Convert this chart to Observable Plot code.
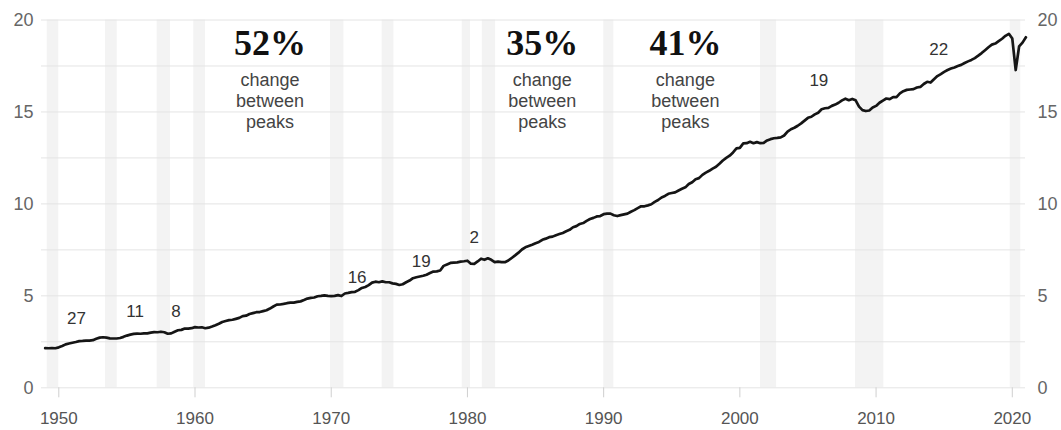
<!DOCTYPE html>
<html>
<head>
<meta charset="utf-8">
<script src="https://cdn.jsdelivr.net/npm/d3@7"></script>
<script src="https://cdn.jsdelivr.net/npm/@observablehq/plot@0.6"></script>
<style>
  html, body { margin: 0; padding: 0; background: #fff; }
  #chart svg { display: block; }
</style>
</head>
<body>
<div id="chart"></div>
<script>
// Real GDP, trillions of chained dollars, quarterly from 1949 Q1
const firstYear = 1949;
const gdp1949 = [2.16, 2.15, 2.16, 2.15];
const gdp1950s = [
  2.20, 2.27, 2.36, 2.41,
  2.45, 2.49, 2.54, 2.55,
  2.57, 2.57, 2.59, 2.67,
  2.73, 2.75, 2.73, 2.69,
  2.68, 2.68, 2.71, 2.77,
  2.84, 2.89, 2.93, 2.95,
  2.94, 2.96, 2.96, 3.00,
  3.03, 3.02, 3.05, 3.02,
  2.94, 2.96, 3.05, 3.13,
  3.15, 3.22, 3.22, 3.24
];
const gdp1960s = [
  3.30, 3.28, 3.29, 3.24,
  3.27, 3.33, 3.40, 3.48,
  3.58, 3.63, 3.68, 3.70,
  3.75, 3.80, 3.90, 3.92,
  4.01, 4.06, 4.11, 4.12,
  4.17, 4.22, 4.31, 4.42,
  4.52, 4.53, 4.56, 4.60,
  4.63, 4.63, 4.67, 4.70,
  4.77, 4.85, 4.89, 4.91,
  4.98, 5.00, 5.03, 5.00
];
const gdp1970s = [
  4.99, 5.00, 5.04, 4.99,
  5.13, 5.16, 5.20, 5.22,
  5.31, 5.43, 5.48, 5.58,
  5.72, 5.77, 5.74, 5.79,
  5.74, 5.74, 5.68, 5.65,
  5.59, 5.63, 5.74, 5.83,
  5.96, 6.01, 6.05, 6.09,
  6.15, 6.24, 6.32, 6.33,
  6.38, 6.63, 6.71, 6.79,
  6.81, 6.82, 6.86, 6.88
];
const gdp1980s = [
  6.91, 6.75, 6.74, 6.87,
  7.02, 6.96, 7.04, 6.96,
  6.83, 6.86, 6.83, 6.83,
  6.92, 7.06, 7.20, 7.35,
  7.52, 7.64, 7.71, 7.78,
  7.86, 7.93, 8.05, 8.11,
  8.19, 8.22, 8.30, 8.36,
  8.42, 8.51, 8.59, 8.73,
  8.79, 8.91, 8.96, 9.08,
  9.18, 9.24, 9.32, 9.34
];
const gdp1990s = [
  9.44, 9.47, 9.47, 9.38,
  9.34, 9.39, 9.43, 9.47,
  9.57, 9.66, 9.77, 9.87,
  9.87, 9.92, 9.98, 10.11,
  10.21, 10.35, 10.43, 10.55,
  10.59, 10.63, 10.73, 10.82,
  10.90, 11.08, 11.18, 11.34,
  11.40, 11.58, 11.70, 11.80,
  11.92, 12.02, 12.18, 12.36,
  12.50, 12.62, 12.80, 13.02
];
const gdp2000s = [
  13.05, 13.29, 13.30, 13.38,
  13.30, 13.36, 13.30, 13.32,
  13.45, 13.52, 13.57, 13.59,
  13.62, 13.72, 13.93, 14.06,
  14.14, 14.25, 14.38, 14.53,
  14.68, 14.74, 14.87, 14.96,
  15.15, 15.20, 15.22, 15.33,
  15.40, 15.50, 15.63, 15.72,
  15.64, 15.71, 15.63, 15.29,
  15.10, 15.05, 15.08, 15.24
];
const gdp2010s = [
  15.33, 15.50, 15.62, 15.73,
  15.70, 15.81, 15.81, 16.01,
  16.13, 16.20, 16.22, 16.24,
  16.33, 16.36, 16.52, 16.64,
  16.60, 16.78, 16.95, 17.06,
  17.18, 17.28, 17.36, 17.42,
  17.50, 17.56, 17.66, 17.75,
  17.83, 17.93, 18.06, 18.20,
  18.36, 18.52, 18.66, 18.72,
  18.85, 18.98, 19.14, 19.25
];
const gdp2020s = [18.99, 17.28, 18.56, 18.77, 19.06];

// Recession periods (shaded bands), in fractional years
const recessionStart = [1949.15, 1953.43, 1957.22, 1959.91, 1969.95, 1973.74, 1979.62, 1981.09, 1990.01, 2001.52, 2008.49];
const recessionEnd   = [1950.00, 1954.29, 1958.20, 1960.77, 1970.93, 1974.60, 1980.23, 1982.07, 1990.75, 2002.70, 2010.57];
const recessionStart2020 = 2019.85, recessionEnd2020 = 2020.62;

// Small numeric labels along the line
const noteLabels = ["27", "11", "8", "16", "19", "2", "19", "22"];
const noteYears  = [1951.3, 1955.6, 1958.6, 1971.9, 1976.6, 1980.5, 2005.8, 2014.6];
const noteValues = [3.77, 4.15, 4.15, 5.99, 6.89, 8.17, 16.73, 18.4];

// Growth between business-cycle peaks
const peakChange = ["52%", "35%", "41%"];
const peakChangeYears = [1965.5, 1985.5, 1996.0];
const peakChangeValue = 18.74;
const peakChangeNote = "change\nbetween\npeaks";
const peakChangeNoteValue = 17.25;

// Axis ticks
const xTicks = [1950, 1960, 1970, 1980, 1990, 2000, 2010, 2020];
const yTicks = [0, 5, 10, 15, 20];
const yGrid = [0, 2.5, 5, 7.5, 10, 12.5, 15, 17.5, 20];

const values = [].concat(gdp1949, gdp1950s, gdp1960s, gdp1970s, gdp1980s, gdp1990s, gdp2000s, gdp2010s, gdp2020s);
const series = values.map((v, i) => ({t: firstYear + i / 4, v}));
const recessions = recessionStart.map((s, i) => ({start: s, end: recessionEnd[i]}))
  .concat([{start: recessionStart2020, end: recessionEnd2020}]);
const notes = noteLabels.map((label, i) => ({label, t: noteYears[i], v: noteValues[i]}));
const peaks = peakChange.map((label, i) => ({label, t: peakChangeYears[i]}));

const sans = "'Liberation Sans', Arial, Helvetica, sans-serif";
const serif = "'Liberation Serif', 'DejaVu Serif', Georgia, serif";

const chart = Plot.plot({
  width: 1061,
  height: 430,
  marginTop: 19.5,
  marginBottom: 42.7,
  marginLeft: 41,
  marginRight: 36,
  style: {fontFamily: sans, background: "#fff"},
  x: {domain: [1948.73, 2020.97]},
  y: {domain: [0, 20]},
  marks: [
    Plot.rect(recessions, {x1: "start", x2: "end", fill: "#f3f3f3"}),
    Plot.gridY(yGrid, {stroke: "#e4e4e4", strokeOpacity: 1, strokeWidth: 1}),
    Plot.axisX(xTicks, {
      tickSize: 10, tickPadding: 14, stroke: "#cfcfcf",
      fill: "#555", fontSize: 17, tickFormat: d => String(d), label: null
    }),
    Plot.axisY(yTicks, {
      anchor: "left", tickSize: 0, tickPadding: 8,
      fill: "#666", fontSize: 18, label: null
    }),
    Plot.axisY(yTicks, {
      anchor: "right", tickSize: 0, tickPadding: 12,
      fill: "#666", fontSize: 18, label: null
    }),
    Plot.line(series, {x: "t", y: "v", stroke: "#151515", strokeWidth: 2.7, strokeLinejoin: "round"}),
    Plot.text(notes, {x: "t", y: "v", text: "label", fontSize: 17, fill: "#333"}),
    Plot.text(peaks, {
      x: "t", y: () => peakChangeValue, text: "label",
      fontSize: 36, fontWeight: "bold", fontFamily: serif, fill: "#111"
    }),
    Plot.text(peaks, {
      x: "t", y: () => peakChangeNoteValue, text: () => peakChangeNote,
      lineAnchor: "top", lineHeight: 1.17, fontSize: 18, fill: "#444"
    })
  ]
});

document.getElementById("chart").appendChild(chart);
</script>
</body>
</html>
